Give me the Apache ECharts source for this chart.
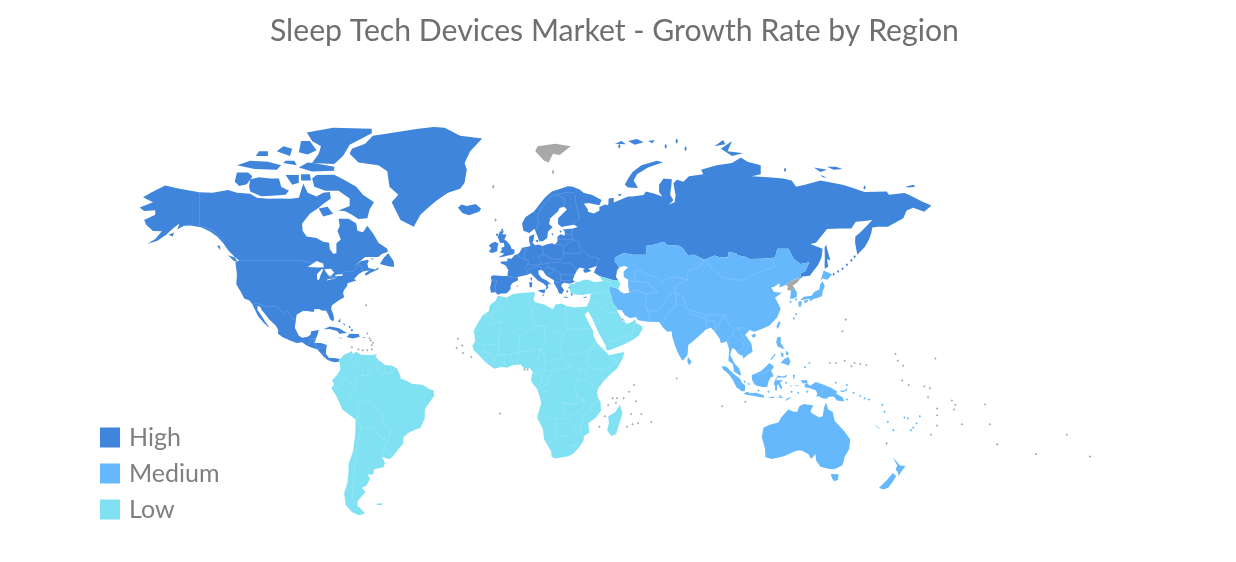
<!DOCTYPE html>
<html>
<head>
<meta charset="utf-8">
<title>Sleep Tech Devices Market</title>
<script src="https://cdn.jsdelivr.net/npm/echarts@6/dist/echarts.min.js"></script>
<style>
  html, body { margin: 0; padding: 0; background: #fff; }
  #chart-container { width: 1236px; height: 562px; }
</style>
</head>
<body>
<div id="chart-container"></div>
<script>
// legend levels, region assignment
var levelNames = ['High', 'Medium', 'Low'];
var levelValues = [3, 2, 1];
var levelColors = ['#3f85dc', '#66b8fc', '#7fe1f2'];
var noDataColor = '#a8a8a8';
var regionNames = ['North America', 'Europe', 'Asia Pacific', 'South America', 'Middle East and Africa', 'Rest of the World'];
var regionLevels = [3, 3, 2, 1, 1, null];

// outlines as [lon, lat], lon runs past 180 where the map does
var northAmerica = [[-168,65.6],[-164,66.5],[-162,67],[-166.5,68.3],[-163,69.5],[-156.5,71.3],[-150,70.5],[-141,69.6],[-135,69.5],[-128,70.2],[-124,69.5],[-118,69.2],[-115,68.2],[-110,67.9],[-105,68],[-100,67.9],[-96,68.2],[-94,71.8],[-92,69.5],[-88,68.5],[-85,69.5],[-82,69.7],[-81.5,68],[-85,66.5],[-87,65.5],[-91,63.8],[-94.5,61],[-94.3,58.8],[-92.5,57],[-88,56.5],[-85,55.3],[-82.3,55],[-82,52.9],[-80.5,51.3],[-79,51.5],[-79,53],[-79,54.8],[-77,56],[-78.5,58.7],[-77.5,60.2],[-78,62.4],[-73.5,62.4],[-70,61],[-69.5,58.8],[-67,58.3],[-65,60.3],[-62,57.5],[-60,55],[-56,53],[-55.7,52],[-58.5,51.2],[-60,50.2],[-66,50.2],[-69,48.3],[-71,46.9],[-68,48.7],[-65,49.2],[-64.3,48.8],[-65,47.8],[-64.5,46.3],[-61.5,45.8],[-60,46.5],[-60,45.9],[-63.5,44.6],[-65.7,43.5],[-66.2,44.2],[-64,45.5],[-67,45],[-69,44],[-71,42.3],[-70,41.7],[-74,40.6],[-74.2,39.5],[-75.5,38],[-76,37],[-75.5,35.2],[-77.8,34],[-79.5,33],[-81,32],[-81.4,30.5],[-80.5,28.3],[-80,26.5],[-80.5,25.2],[-81.8,26],[-82.7,28],[-83.7,29.8],[-85.3,29.7],[-87,30.4],[-89,30.3],[-89.3,29.2],[-91.5,29.5],[-94,29.7],[-97,28],[-97.3,26],[-97.8,22.5],[-96,19],[-94.5,18.2],[-92,18.6],[-90.7,19.5],[-90.4,21],[-87,21.5],[-87.5,19.5],[-88.2,18],[-88.8,15.9],[-86,15.9],[-83.3,15],[-83.7,12.5],[-83.7,11],[-82.3,9.2],[-80,9.2],[-77.4,8.7],[-78,7.5],[-80,7.3],[-81.5,7.7],[-83,8.3],[-85,10],[-86,11.2],[-87.6,13],[-90,13.8],[-92.3,14.6],[-94.5,16.2],[-97,15.9],[-100,17],[-103.5,18.5],[-105.5,20],[-105.3,21.5],[-106.5,23.5],[-109.4,26],[-111,28],[-112.8,30],[-113.5,31.3],[-114.7,31.7],[-114.7,30],[-113.2,28],[-111.5,25.5],[-109.5,23],[-110,22.9],[-112,24.8],[-114.5,27.5],[-115.8,30],[-117.1,32.5],[-118.5,34],[-120.6,34.6],[-122.5,37.7],[-124.3,40.3],[-124,44],[-124.7,48.3],[-123,49],[-125,50.2],[-128,52.5],[-130.2,54.8],[-133,57],[-136,58.5],[-140,59.8],[-145,60.4],[-148,60.3],[-151,59.2],[-150,61],[-153,59.5],[-156,57.5],[-160,55.6],[-164.5,54.6],[-161,56.2],[-158,58.6],[-162,58.7],[-165,60.5],[-166,62],[-161,63.5],[-161,64.8],[-166,64.6]];
var greatLakes = [
  [[-92,46.7],[-88,48.8],[-85,47.9],[-84.7,46.6],[-87,46.5]],
  [[-87.7,42],[-87.8,44],[-85.5,46],[-85,45.7],[-86.3,43.5],[-86.8,42]],
  [[-84.5,45.9],[-81.5,46],[-80,44.7],[-81.7,43.2],[-83,44]],
  [[-83.3,41.7],[-83,42.2],[-79,42.9],[-79,42.6]],
  [[-79.7,43.3],[-79.3,43.8],[-76.3,44.1],[-76.2,43.5]]
];
var arcticIslands = [
  [[-88,73.8],[-80,73.9],[-76,72.8],[-70,71],[-67,69],[-62,67],[-64,65],[-65,62.5],[-69,62.3],[-72,63.5],[-75,64.5],[-78,64.7],[-73,66],[-73,68],[-78,70],[-84,70],[-89,71],[-90,73]],
  [[-118,69.8],[-113,68.6],[-108,68.7],[-102,69],[-100.5,70],[-104,71],[-105,73],[-109,73],[-114,73.3],[-118,72.8],[-118.5,71]],
  [[-125,72.2],[-123,71.2],[-119.5,71.6],[-117,73.5],[-119,74.4],[-124,74.4]],
  [[-124,76],[-116,75.2],[-106,75],[-104,76],[-110,76.8],[-118,77]],
  [[-96,75.5],[-90,74.6],[-80,74.8],[-80,75.7],[-88,76.4],[-92,76.6]],
  [[-90,76.5],[-80,76.3],[-76,78],[-73,80.3],[-63,82.5],[-63,83.3],[-80.5,83.5],[-92.4,82.6],[-90,81],[-86,80],[-87,78.5]],
  [[-96,78.8],[-92,78.3],[-88,79.2],[-91,81],[-95,81]],
  [[-106,79],[-100,78],[-99,79.5],[-103,80]],
  [[-115.5,78],[-110,78],[-110,79],[-114,79]],
  [[-102,73.8],[-99,71.5],[-96,72],[-96,73.8]],
  [[-95,74],[-91,74],[-90.5,72.5],[-95,72.5]],
  [[-87,65.3],[-83,65.8],[-80.5,63.8],[-85,63]],
  [[-59.3,47.7],[-55.5,46.9],[-53,46.7],[-53,48.5],[-55.5,51.5],[-57.5,50]],
  [[-128,50.8],[-125,50],[-123.5,48.4],[-125.5,48.9]],
  [[-133,54],[-131.7,54],[-131.5,52.5]],
  [[-155,57.5],[-152.5,58.2],[-153,57]],
  [[-64,49.9],[-62,49.5],[-62.5,49.2]],
  [[-103,76.5],[-97,76],[-98,77],[-102,77]]
];
var greenland = [[-73,78.5],[-69,76.6],[-60,76],[-56,74.7],[-55,71],[-51,69],[-54,67],[-50,62],[-46,60.7],[-44,60],[-41,63.5],[-37,65.8],[-33.5,67.5],[-28.5,69.5],[-23,70.5],[-21,72],[-20,75],[-21,76.5],[-18.5,79],[-13,81.5],[-23,82],[-30,83.5],[-35,83.6],[-42,83.3],[-55,82.5],[-62.5,82],[-66,80.5],[-72,79.5]];
var caribbean = [
  [[-84.9,21.9],[-82,23.1],[-78,22.4],[-74.2,20.2],[-77.7,19.9],[-78.5,21],[-82,22]],
  [[-74.4,18.5],[-73,19.9],[-69,19.8],[-68.4,18.6],[-71.5,17.8]],
  [[-78.3,18.3],[-76.3,18.1],[-77,17.8]],
  [[-67.2,18.4],[-65.7,18.3],[-66.5,18]],
  [[-78.3,25],[-77.3,26.6],[-77.2,25]],
  [[-76,24.8],[-75,23.8],[-75.5,23.5]],
  [[-61.8,10.7],[-60.9,10.8],[-61,10.1]]
];
var eurasiaWest = [[-9,37],[-9.5,38.8],[-8.8,41.5],[-9.2,43.1],[-8,43.7],[-4,43.4],[-1.7,43.4],[-1.2,45.5],[-2.5,47.3],[-4.7,48],[-4.5,48.6],[-1.7,48.7],[-1.6,49.7],[0.2,49.6],[1.6,50.8],[3.5,51.4],[4.5,52.5],[5,53.3],[7,53.6],[8.8,53.9],[8.2,55.5],[8.2,57],[10.6,57.7],[10.3,56.2],[9.8,55],[11,54.2],[12.5,54.4],[14.2,53.9],[16.5,54.5],[18.6,54.8],[19.8,54.4],[21,55.3],[21,57],[22.5,57.7],[24.3,57.2],[24.4,58.4],[23.5,59.2],[28,59.5],[30.2,59.9],[28.5,60.6],[25,60.2],[22.9,59.9],[21.3,60.8],[21.3,62.5],[25.3,65],[24,65.8],[22,65.4],[21.3,64.5],[17.8,62.5],[17.2,60.8],[18.8,59.9],[16.7,58.5],[16.4,56.5],[14.3,55.5],[12.9,55.4],[11.2,58.5],[10.6,59.4],[8.3,58.1],[5.6,58.8],[5,61],[6.5,62.8],[10.5,64.5],[13,66.5],[15.5,68.3],[18.5,69.8],[23,70.6],[25.7,71.1],[28,71],[31,70.3],[33,69.4],[36.5,69],[41,67.6],[40,66.2],[35,66.8],[33,66.6],[34.8,65],[34.8,64.4],[37.5,63.9],[40,64.7],[40,65.7],[42.5,66.4],[44,66.2],[44.2,68],[46.5,68.2],[46.5,66.9],[53,68.5],[55,68.5],[60,68.9],[61,69.8],[65,69.2],[68.5,68.5],[67,69.7],[67,71.5],[69,73],[72.8,72.8],[72.5,71],[72,69],[73.5,67.5],[71.5,66.4],[74,67],[74.5,68.8],[73.5,71.8],[75,72.7],[78,72.2],[80.5,73.5],[87,74],[86,75],[93,76],[100,76.5],[104,77.7],[107,76.8],[113,76],[113,74],[109,73.5],[118,73.2],[123,73],[127,72.5],[129,71],[133,71.5],[140,72.5],[150,71.5],[153,71],[160,69.7],[170,69.8],[171,69],[178,69.4],[180,69],[186,67.2],[190.2,66.1],[187,64.4],[182,65.5],[179,64.7],[177.5,62.5],[170.5,60],[166,60],[163.5,59.8],[163,58],[162,56],[160,53.5],[158,52],[156.7,51],[155.7,55],[155.8,57],[158,58.2],[161,60.3],[163.5,62],[160,61.7],[156,61.5],[154,59.5],[149,59.5],[143,59.3],[138,55],[135.5,54.6],[138,53.8],[141,53],[140.5,50],[139,47.5],[135.2,43.5],[132,43.2],[130.7,42.3],[130.9,43],[131.3,44.5],[133,45],[135,48.4],[131,47.7],[128,49.5],[125.5,53],[120.5,53],[119.5,50],[116.5,49.8],[113,49.6],[108,49.5],[106,50.3],[102.3,50.8],[102,51.4],[98.5,52],[98,50],[94,50.2],[92,50.7],[87.5,49.2],[85.5,50],[83,51],[80,50.9],[77.5,53.3],[76,54],[71,54.2],[69,55.3],[65,54.4],[61,53.9],[61.5,51],[55,51],[51,51.6],[47,50],[47,48.5],[49,46.5],[48,45.5],[47.5,43],[48.5,41.9],[46,41.9],[40,43.4],[37.5,44.7],[38.5,46.5],[39,47],[35,46],[36.4,45.2],[33.5,44.5],[32.5,45.5],[33.5,46],[31,46.5],[29.7,45.2],[28.6,43.5],[28,41.9],[29,41.2],[26.5,40.5],[24,40.8],[23,40.3],[22.8,39.5],[24,38],[23,36.5],[21.7,36.8],[21,38.4],[19.5,40.5],[19.4,41.8],[16,43.5],[14.5,45.2],[13.7,45.6],[12.4,45.4],[12.5,44],[14,42.5],[16,41.8],[18.5,40.1],[17,40.5],[16.6,39.5],[17,39],[15.7,38],[16,39.5],[14.5,40.6],[12.3,41.6],[10.5,43],[8.9,44.4],[7.5,43.8],[5,43.4],[3,43],[3.2,41.8],[0.5,40.6],[-0.3,39.4],[0,38.7],[-1,37.6],[-2.2,36.7],[-4.5,36.7],[-6,36.2],[-7,37.2]];
var europeIslands = [
  [[-5.7,50],[-3.5,50.3],[1.4,51.2],[1.7,52.7],[0.2,53],[-0.2,54],[-1.6,55.3],[-3,56],[-2,57.6],[-4,57.7],[-3.1,58.6],[-5,58.6],[-6,56.8],[-5,55],[-3.2,54.9],[-3,53.7],[-4.4,53.3],[-4.2,52.3],[-5.2,51.8],[-3,51.3]],
  [[-10,52],[-8.5,51.6],[-6.3,52.2],[-6,53.8],[-5.6,54.6],[-7,55.3],[-8.4,55],[-10,54.2],[-9,53.2]],
  [[-24,65.5],[-22,64],[-19,63.4],[-14.5,64.4],[-13.5,65.2],[-16,66.5],[-20,66],[-22.5,66.4]],
  [[12.5,38],[15.6,38.2],[15.1,36.7],[12.5,37.6]],
  [[8.2,41],[9.6,41],[9.5,39.2],[8.5,39]],
  [[8.7,42.5],[9.4,43],[9.5,42],[9.2,41.4]],
  [[23.6,35.5],[26.3,35.2],[24.8,34.9]],
  [[32.3,35],[34.5,35.6],[33.7,34.9]],
  [[2.4,39.6],[3.4,39.9],[3,39.3]],
  [[11,55.7],[12.5,56],[12,55]],
  [[18.2,57.9],[19.2,57.9],[18.8,57.2]],
  [[22,58.9],[23,58.6],[22.2,58.1]],
  [[51.5,71.5],[53,70.8],[57.5,70.7],[55.5,72.5],[57,74],[62,75.5],[68.8,76.7],[66,77],[59,76],[55,74.5],[53,73]],
  [[48,69],[50,69.2],[49.5,68.6]],
  [[47,80.5],[50,81],[52,80.4]],
  [[53,81],[57,81.4],[60,80.8],[56,80.3]],
  [[62,81],[65,81.2],[64,80.6]],
  [[95,79.5],[100,81],[98,79],[105,78.6],[100,78]],
  [[92,80],[96,81.2],[97,80.4]],
  [[137,75.5],[140,74.5],[143,75]],
  [[143,75.7],[146,75],[150,75.2],[147,75.7]],
  [[140,73.8],[143,73.2],[141,73.3]],
  [[178.5,71],[182,71.5],[183,71],[180,70.8]],
  [[142,46],[143.5,46.8],[143,49.5],[144.5,49],[143,53],[142.7,54.3],[141.9,53.5],[142,50],[141.9,47.5]]
];
var asiaMain = [[49,46.5],[47,48.5],[47,50],[51,51.6],[55,51],[61.5,51],[61,53.9],[65,54.4],[69,55.3],[71,54.2],[76,54],[77.5,53.3],[80,50.9],[83,51],[85.5,50],[87.5,49.2],[92,50.7],[94,50.2],[98,50],[98.5,52],[102,51.4],[102.3,50.8],[106,50.3],[108,49.5],[113,49.6],[116.5,49.8],[119.5,50],[120.5,53],[125.5,53],[128,49.5],[131,47.7],[135,48.4],[133,45],[131.3,44.5],[130.9,43],[130.7,42.3],[129.5,42.5],[128,42],[126.5,41.5],[124.4,40],[121.5,39],[121.5,40.7],[119,39.2],[117.7,39],[119,37.3],[122.5,37],[119.5,35],[121,32.5],[122,30.5],[120.5,27],[117,23.5],[113.5,22],[110,20.8],[108,21.5],[106,19.5],[108.8,15.5],[109.3,12],[107,10.5],[105,8.7],[105,10],[103,11],[100.8,13.5],[100,13.4],[99.2,10.5],[101,7],[103.3,4.5],[104.2,1.4],[103.4,1.4],[101,3],[100.3,6.5],[98.4,8],[98.7,13],[97.6,16.5],[95,15.8],[94.3,18],[92,21],[90.5,22.5],[88,21.7],[86.8,20.5],[82.5,16.8],[80.2,15],[80,12],[79.8,10.3],[77.6,8],[76,10.5],[74.5,14],[73,18.5],[72.7,21],[70.8,20.8],[69,22.3],[68,23.7],[67,25],[62,25.1],[57.5,25.7],[56.5,27.1],[54,26.6],[51.5,27.8],[50,30],[48.6,30],[47.7,31],[46,33],[45.5,35.5],[44.5,37.5],[44.5,39.5],[46.5,39],[48.5,38.5],[49.5,37.5],[51,36.7],[53.5,37],[53,40],[53,42],[51,43],[51,45],[53,46.7],[51,47]];
var asiaIslands = [
  [[128.4,38.6],[129.4,37],[129.3,35.3],[127.5,34.6],[126.3,34.6],[126.7,37.8]],
  [[80,9.7],[81.8,7.5],[80.6,5.9],[79.8,7.5]],
  [[108.7,19.3],[110.5,20],[110.8,18.8],[109.5,18.2]],
  [[121,25.2],[122,25],[120.8,22],[120.1,23]],
  [[130.9,34],[132.5,35.4],[136,35.8],[137.2,37.3],[139.5,38.2],[140,40.5],[141,41.4],[142,39.5],[141,37.5],[140.8,35.7],[139,35],[136.8,34.5],[135.5,33.5],[135,34.6],[132.5,34.2]],
  [[130,33.5],[131.6,33.6],[131.3,31.4],[130.2,31.3]],
  [[132.4,33.8],[134.5,34.2],[134.3,33.4],[133,32.8]],
  [[140,41.5],[141.5,45.4],[145.3,44],[143.2,42],[141,42.4]],
  [[120.5,18.5],[122.2,18.4],[122,16],[124,13],[122,13.8],[120.6,14.3],[120,16.2]],
  [[122,7],[123.5,8.6],[125.5,9.7],[126.5,7.5],[125.5,5.7],[124,6.5]],
  [[124.5,12.5],[125.7,11.2],[125,10.2],[124.3,11]],
  [[122,11.8],[123.3,11.2],[123.3,9.5],[122.4,9.9]],
  [[117.2,8.4],[119.5,11.3],[119.7,10.6],[118,8.5]],
  [[95.3,5.6],[97.5,5.2],[100.5,2.2],[103.5,0],[104.5,-2],[106,-3.2],[105.8,-5.8],[104.5,-5.8],[102,-4],[100.5,-1],[98.7,1.7],[96,4]],
  [[105.2,-6.8],[106.8,-6],[108.5,-6.7],[111,-6.5],[114.5,-7.7],[114.4,-8.7],[110,-8],[106.5,-7.4]],
  [[109,1.5],[111.3,2.5],[113,3.2],[115.5,5.5],[117,7],[119,5.2],[117.7,3.5],[118.9,1],[117.5,0.5],[116.5,-1.5],[116,-3.8],[114.5,-4],[111.8,-3.5],[110.2,-2.8],[109,-0.5]],
  [[119.4,-5.4],[119.6,-3.4],[118.9,-2.7],[119.8,0],[120.7,1.3],[123,0.9],[125,1.6],[124.3,0.4],[120.3,0.4],[120.1,-0.8],[121.5,-0.9],[123.3,-0.8],[121.7,-1.9],[122.8,-4.3],[122,-4.8],[121,-2.8],[120.4,-3],[120.4,-5.5]],
  [[131,-0.8],[134,-0.8],[134.2,-2.5],[135.5,-3.3],[137.8,-1.6],[141,-2.6],[145,-4.3],[147.8,-6],[147,-6.8],[150,-8.5],[150.8,-10.4],[147.5,-10],[146,-8.2],[143.5,-8.4],[143,-9.2],[141,-9.1],[139,-8],[138,-8.4],[138.6,-7],[138,-5.5],[135,-4.3],[133,-4],[132.8,-2.8],[134,-2.3],[132,-2.2]],
  [[148.5,-5.6],[151,-5.5],[152.2,-4.2],[152,-5.5],[150,-6.3]],
  [[124,-10.2],[125,-9],[127.2,-8.4],[125,-9.8]],
  [[120,-8.8],[123,-8.2],[122.8,-8.7],[120,-8.9]],
  [[116,-8.8],[119,-8.2],[119,-8.8]],
  [[119.2,-9.7],[120.7,-9.8],[120.5,-10.2]],
  [[127.5,1.8],[128.5,1.5],[128,-0.7],[127.7,0.5]],
  [[128,-3],[130.8,-3.2],[129.5,-3.5]],
  [[126,-3.2],[127.2,-3.4],[126.5,-3.8]],
  [[114.2,-22],[113.5,-26],[115,-31],[115.1,-34.3],[118,-35],[123.5,-33.9],[129,-31.6],[131.5,-31.5],[134.5,-33],[135.8,-35],[137.8,-33],[138,-35.5],[140,-38],[143.5,-38.8],[146.3,-39],[150,-37.5],[151,-34],[153,-31],[153.5,-27],[150.8,-23.5],[146.5,-19],[145.5,-15],[143.5,-14],[142.5,-10.8],[141.7,-13],[141,-17],[139.5,-17.5],[136,-15.5],[135.5,-14.7],[136.8,-12.2],[132.5,-11.5],[130.5,-12.5],[129.5,-15],[128,-15],[125.5,-14],[122.2,-17.5],[121,-19.7],[117,-20.7]],
  [[144.7,-40.8],[148.2,-40.9],[148,-43],[146.3,-43.6],[145.3,-42.5]],
  [[172.7,-34.5],[174.5,-36],[176,-37.6],[178.5,-37.7],[177,-39.5],[175.3,-41.6],[175,-40],[174,-39.3],[174.8,-37.5]],
  [[172.8,-40.5],[174.3,-41.7],[172.8,-43.7],[170.7,-45.9],[168.5,-46.6],[166.5,-45.9],[170,-43.2]],
  [[164,-20.2],[167,-22.3],[166.4,-22.3]]
];
var southAmerica = [[-77.4,8.7],[-75.5,10.7],[-72,12.2],[-71.5,11],[-70,12],[-68,10.6],[-64,10.5],[-62,10.7],[-60,8.4],[-57,6],[-54,5.8],[-51.5,4.5],[-50,1],[-50,0],[-48,-0.7],[-44.5,-2.5],[-40,-2.9],[-37,-4.8],[-35,-5.5],[-34.8,-8],[-37,-11],[-39,-14],[-39,-18],[-41,-22],[-44,-23],[-46.5,-24.2],[-48.6,-26],[-48.7,-28.5],[-51,-31],[-53.5,-34],[-55,-35],[-58.4,-34.2],[-57,-36.5],[-57.7,-38.2],[-62,-39],[-62.3,-41],[-65,-41],[-63.7,-42.5],[-65.3,-45],[-67.5,-46],[-65.8,-47.5],[-69.3,-50.5],[-69.5,-52.3],[-68.5,-52.8],[-66,-54.8],[-69,-55.4],[-72,-54.3],[-74.8,-52],[-75.5,-48],[-74,-44],[-73.5,-40],[-73.5,-37],[-71.5,-32],[-70.5,-25],[-70.3,-18.4],[-76.3,-14],[-79,-8],[-81.3,-4.5],[-80,-2.5],[-81,-1],[-78.8,1.5],[-77.2,4],[-77.5,7],[-78,8.3]];
var falklands = [[-61,-51.6],[-58,-51.4],[-58.5,-52],[-60.5,-52]];
var africa = [[-5.9,35.8],[-2,35.1],[1,36.5],[5,36.9],[10,37.3],[11,36.9],[10.2,34.3],[11,33.2],[15,32.3],[19,30.3],[20.1,32.3],[23,32.7],[25,31.6],[29,31],[32.2,31.3],[34.3,31.3],[34.9,29.5],[33.5,28],[32.6,29.9],[33.5,27.8],[35.5,24],[37.2,21],[37.3,19],[39,15.8],[43,12],[43.3,11.5],[44.5,10.4],[48,11.2],[51.2,11.9],[50.8,9.5],[48,4.5],[44,1],[41.5,-1.8],[39.5,-4.5],[39,-6.5],[39.5,-9],[40.5,-10.5],[40.7,-14.5],[38.5,-17.5],[35,-20],[35.5,-24],[33,-25.5],[32.8,-27.5],[31,-30],[28,-33],[25.5,-34],[20,-34.8],[18.3,-34],[18.2,-32],[15,-27],[14.4,-22.5],[11.8,-17.5],[13.7,-11],[13,-8.5],[12,-5],[9.5,-2],[9,-0.5],[9.8,3],[8.5,4.6],[6,4.3],[4.5,6.3],[1,6],[-2,4.8],[-4,5.2],[-7.5,4.4],[-11,6.8],[-13.2,9],[-15,11],[-16.8,12.5],[-17.5,14.7],[-16.3,16.5],[-16.5,19.4],[-17,21],[-14.9,24.5],[-13,27.7],[-10,29.5],[-9.6,32],[-7,33.8]];
var madagascar = [[49.3,-12],[50.5,-15.5],[47.5,-24.8],[45.3,-25.5],[43.5,-23],[44.3,-20],[44,-17],[47,-15.3]];
var middleEast = [[26.3,39.5],[27,37],[29,36.3],[32.5,36.1],[36,36.7],[35.8,34.5],[34.3,31.3],[34.9,29.5],[37,26],[39,21.5],[41,18],[42.7,15],[43.3,12.7],[45,12.8],[48,14],[52,15.7],[55,17.2],[57.8,19],[59.8,22.5],[58.5,23.7],[56.5,24.6],[56.3,26.2],[55,25.2],[52.5,24.2],[51.5,24.8],[51.3,26],[50.5,25],[49.8,27],[48.2,29.3],[48,30],[48.6,30],[47.7,31],[46,33],[45.5,35.5],[44.5,37.5],[44.5,39.5],[46.5,39],[48.5,38.5],[49.5,40.3],[48.5,41.9],[46,41.9],[40,43.4],[41.6,41.5],[38,41],[35,42],[33,42],[31,41.2],[29,41.1],[29,40.5],[26.7,40.4]];
var greyLands = [
  [[11,79],[15,77],[17,76.6],[19,78.5],[22,78.2],[27,80],[20,80.5],[12,80]],
  [[130.7,42.3],[129.7,41],[127.5,39.8],[128.4,38.6],[126.7,37.8],[125,38],[125.3,39.5],[124.4,40],[126.5,41.5],[128,42],[129.5,42.5]]
];

// small islands as centres [lon, lat]
var highIslets = [[146,44],[148,45],[150,46],[152,47.5],[154,49],[155.5,50.3],[-4,59],[-6.3,57.5],[25.5,37.5],[26.5,39],[27.5,36.3],[49,80],[70,80],[75,81],[79,79.5],[124,75],[160,70.8],[-72,21.5],[-73,22.8]];
var mediumIslets = [[135,7],[133,5],[158,-8],[160,-9],[162,-9.5],[155,-6.5],[168,-12],[169,-15],[170.5,-19.5],[173,-23],[179.6,-18],[178,-17.5],[185,-17],[183.5,-20],[182,-22],[181,-23],[124.5,-2],[127,-6],[130,-6.5],[134,-6],[152,-9.5],[147,-2],[152,-3],[126.5,33.4],[129,34.3],[129,28.3],[128,26.5],[121.8,-8],[116.5,-6],[112,-5.5],[107.5,-2.5],[105.8,-1.5]];
var greyIslets = [[-24,17.7],[-22,14.8],[-24.6,13.7],[-21.7,11.4],[-18,9.6],[-5,-15.8],[6,4],[7.5,4],[44,-12],[47.5,-11],[42.5,-17],[40,-21.5],[46,-9],[48,-9],[51,-9],[55.7,-3],[53.4,-6],[56.6,-10.3],[54.4,-16],[59,-16],[52.5,-21.5],[55,-20.5],[57.5,-20],[63.5,-19.5],[75,0],[95.5,-12.5],[106,-10.5],[151.5,26],[150,21],[144.3,7],[147,7],[151,8],[154,5.5],[155.5,7],[158,6.5],[160.8,6],[174,11],[175,8],[177.4,5.7],[192,9],[177,-1],[180,-3],[187,-3.6],[189.6,-4.5],[188.7,-8.5],[199.5,-10],[201,-12],[200.5,-14],[214.5,-11.7],[192.8,-13.5],[192.8,-16.5],[192.8,-21],[190,-25],[204,-20.5],[216.7,-20.5],[220,-29],[237.6,-33],[251.5,-25],[262,-34],[170,-28.6],[-65,20],[-64,18],[-63.5,17],[-62.5,16],[-63,15],[-72,14],[-69,13],[-67,12.7],[-65,12.7],[-63,13],[-65.6,32],[-7,62],[19,74.5],[-8,71],[50.5,26],[14.5,36]];

// thin country borders
var borders = [
  [[-141,69.6],[-141,60.3],[-135,59],[-130,55.5]],
  [[-123,49],[-95,49],[-89.5,48],[-84.5,46.5],[-82.4,43],[-79,43],[-76,44.5],[-74.7,45],[-71,45.2],[-69,47.4],[-67.5,47],[-67,45]],
  [[-117.1,32.5],[-114.7,32.7],[-111,31.3],[-106.5,31.7],[-103,29],[-101,29.7],[-99,26.4],[-97.3,26]],
  [[-92.3,14.6],[-91,16],[-91,17.8],[-89,17.9],[-88.2,18]],[[-89,17.9],[-89.2,15.9],[-88.8,15.9]],[[-89.2,15.9],[-87.6,13]],[[-87.6,13],[-85,14],[-83.3,15]],[[-86,11.2],[-83.7,11]],[[-83,8.3],[-82.3,9.2]],
  [[-1.7,43.4],[3,42.5]],[[-8.8,41.9],[-6.5,41.7],[-7,39.5],[-7.4,37.2]],
  [[2.5,51],[4.5,50],[6,49.5],[8,49],[7.5,47.6],[6,46.3],[7,45.5],[7.5,43.8]],[[7,53.3],[6,51],[6,49.5]],[[8.6,54.9],[9.8,54.8]],
  [[14.2,53.9],[14.7,51],[12.2,50.3],[13.7,48.7],[13,47.5],[10,47.4],[7.5,47.6]],
  [[13,47.5],[16.5,48],[17,48.2],[22,48.4],[24,47.9],[27,48.3],[29,46.5],[29.7,45.2]],
  [[14.7,51],[19,49.5],[22.5,49.2],[24,50.8],[23.5,53.8],[22.8,54.4],[19.8,54.4]],
  [[7,45.5],[10,46.5],[12.3,47],[13.7,46.5],[13.7,45.6]],
  [[16.5,48],[16.5,46.5],[19,46],[22,44.5],[22.5,44],[28.6,43.7]],[[22.5,44],[22.5,41.5],[26.3,41.7],[28,42]],[[19.4,41.8],[20.5,41],[20,39.7]],[[20.5,41],[22.5,41.2]],[[14.5,45.3],[16.5,46.5]],[[16,43.5],[19,44.8],[19,46]],
  [[21,56.2],[26,56],[28,56]],[[24.4,57.9],[27.5,57.5]],[[23.5,53.8],[26,54.8],[28,56],[27.5,57.5],[28,59.5]],
  [[24,51.5],[31,51.5],[33,52.3],[36,50.4],[40,49.6],[38.5,47]],[[28,56],[31,54.8],[31,52.5]],
  [[28,60.6],[31,62.5],[29.5,66],[29,69]],[[24,65.8],[24,68],[20.5,69],[25,69.5],[29,69.5]],[[11.2,58.9],[12.5,61],[12,63.5],[14.5,66],[18,68.5],[20.5,69]],
  [[53,42],[56,41.3],[56,45],[59,45.5],[61,44],[66,43],[68,41],[71,42.5],[74,43],[80,42]],
  [[53.5,37],[57,38.2],[61,36.5],[64,37],[66.5,37.4],[61,41],[56,41.3]],
  [[61,36.5],[61,31.5],[62,29.5],[66.5,29.8],[70,33.5],[71.5,36.5],[74.5,37]],[[61,31.5],[62.8,27],[61.6,25.1]],
  [[87.5,49.2],[85.5,47],[80,45],[80,42]],[[80,42],[74,39.5],[74.5,37]],[[74.5,37],[75,32],[70,28],[69,24.3]],
  [[74.5,37],[78,35],[79,31],[81,30],[88,27.9],[92,28],[97,28]],[[81,30],[80,28.8],[88,26.5],[88,27.9]],[[88,26],[88.8,22]],[[88,26],[92.4,25],[92,21]],
  [[97,28],[94.5,25],[93,22],[92.5,21]],[[97,28],[98.5,24],[101,21.5]],[[101,21.5],[103,22.5],[106,22.5],[108,21.5]],[[103,22.5],[104.5,19],[107.5,15],[106,11.3],[105,10.5]],
  [[101,21.5],[100.5,20],[102,18],[105,16],[105.5,14.3],[102.5,12]],[[100.5,20],[98,18],[99,11]],[[100.3,6.5],[102,6]],
  [[87.5,49.2],[91,46],[96,42.7],[105,41.7],[112,44.8],[120,47],[116,49.8]],[[109.6,2],[114,2],[117.5,4.2]],[[141,-2.6],[141,-9.1]],
  [[36,36.7],[42,37.2],[44.5,37.5]],[[41.6,41.5],[44.5,41.2],[46,41.9]],[[42,37.2],[41,34.5],[39,32.5],[36.8,32.5],[35,33]],[[39,32.5],[44,29],[48,29]],[[43.3,16.5],[47,17],[52,19],[55,20],[56,24.5]],[[52,19],[53,16]],[[44.5,41.2],[46.5,39]],
  [[-2,35.1],[-2,32],[-8.7,28.7],[-8.7,27.3],[-13,27.7]],[[-8.7,27.3],[-4.8,25],[-12,23],[-13,21.3],[-17,21]],[[-4.8,25],[-5.5,15.5],[-12,14.8],[-16.3,16.5]],
  [[-4.8,25],[1,21],[4,19],[12,23.5],[13.5,23]],[[8.5,36.9],[8,33],[9.5,30],[10,24.5],[12,23.5]],[[9.5,30],[11.5,33.2]],[[25,31.6],[25,20]],[[25,22],[36.9,22]],[[25,20],[24,19.5],[15,23],[12,23.5]],
  [[24,19.5],[22,13],[23.5,9]],[[4,19],[3.5,11.8],[14,13]],[[15,23],[15.5,16],[13.5,13.7]],[[13.5,13.7],[15,10],[15.5,7.5],[18.5,8],[23.5,9]],[[13.5,13.7],[12,7],[8.7,4.6]],
  [[3.5,11.8],[2.7,6.4]],[[0,11],[1,6]],[[-3,11],[-2.7,5]],[[-8,10],[-7.5,4.4]],[[-5.5,10.5],[0,11],[3.5,11.8]],[[-12,14.8],[-11.3,12],[-8,10],[-5.5,10.5]],[[-5.5,15.5],[-5.5,10.5]],[[-11.3,12],[-13.5,12.4],[-16.8,12.5]],[[-13.2,9],[-11,10],[-10.5,8],[-11,6.8]],
  [[15.5,7.5],[15,3.5],[18.5,3.5],[27,5]],[[23.5,9],[27,5],[31,3.7],[34,4.2],[35,5]],[[36,12.5],[34,9],[35,5],[41,4],[45,5],[48,8],[43,11]],[[38.6,18],[36.5,14.5],[36,12.5],[32,12],[25,10]],[[36.5,14.5],[40,14.5],[43,12]],[[41,4],[41.5,-1.8]],[[34,-1],[39.2,-4.6]],[[31,3.7],[30,-1],[34,-1],[34,4.2]],
  [[30,-1],[29,-4.5],[30,-8],[28.5,-12],[24,-11]],[[18.5,3.5],[16,-3],[12,-5]],[[9.8,2.3],[13,2.2],[14,-2],[11,-3.8]],[[13,-6],[17,-6],[22,-11],[24,-11],[24,-18],[12,-17.3]],
  [[20,-17.9],[20,-28.5],[16.5,-28.6]],[[20,-22],[25,-18],[29,-22],[25.5,-25.7],[20,-25]],[[25,-18],[29,-15.7],[33,-17],[31.5,-22.3],[29,-22]],[[31.5,-22.3],[32,-26]],[[33,-17],[35,-16],[37,-11.5],[40.5,-10.5]],[[24,-11],[28.5,-12],[33,-9.5],[33,-13],[30,-15.5]],[[30,-8],[33,-9.5],[34.8,-11.5]],[[27.5,-30],[29.3,-29.3],[28.5,-28.7],[27,-29.8],[27.5,-30]],
  [[-71.5,11.5],[-72.5,8],[-67.5,6],[-67,1.2]],[[-78.8,1.5],[-75,0],[-70,-4.2],[-70,1],[-67,1.2]],[[-80.2,-3.4],[-78,-4.5],[-75,0]],[[-70,-4.2],[-73.5,-7.5],[-70.5,-11],[-69.5,-11]],[[-69.5,-11],[-65.5,-10],[-60,-14],[-58,-16.5],[-58,-20]],[[-69.5,-11],[-69,-16],[-69.5,-17.5],[-68,-22.5]],[[-68,-22.5],[-62.5,-22],[-58,-20]],[[-69.5,-17.5],[-70.3,-18.4]],[[-68,-22.5],[-69.5,-30],[-71,-40],[-72,-50],[-68.4,-52.3]],[[-62.5,-22],[-58,-27],[-54.6,-25.6],[-55,-22],[-58,-20]],[[-54.6,-25.6],[-57.5,-30]],[[-57.5,-30],[-53.5,-34]],[[-57.5,-30],[-58.4,-34.2]],[[-60,8.4],[-61,5],[-60,1.5],[-57,2],[-57,6]],[[-54,5.8],[-54.5,2.3],[-57,2]],[[-51.5,4.5],[-54.5,2.3]],[[-67,1.2],[-64,1.5],[-64,4],[-61,5]]
];

var dom = document.getElementById('chart-container');
var myChart = echarts.init(dom, null, { renderer: 'canvas' });

function isletRing(c, r) {
  return [[c[0] - r, c[1]], [c[0], c[1] + r], [c[0] + r, c[1]], [c[0], c[1] - r]];
}
function closeRing(ring) {
  return ring.concat([ring[0]]);
}
function multi(rings) {
  return rings.map(function (r) { return [closeRing(r)]; });
}
function feature(name, polygons) {
  return { type: 'Feature', properties: { name: name }, geometry: { type: 'MultiPolygon', coordinates: polygons } };
}

var lakeRings = greatLakes.map(function (r) { return closeRing(r.slice().reverse()); });
var worldJson = {
  type: 'FeatureCollection',
  features: [
    feature(regionNames[0], [[closeRing(northAmerica)].concat(lakeRings)].concat(multi(arcticIslands), multi([greenland]), multi(caribbean))),
    feature(regionNames[1], multi([eurasiaWest]).concat(multi(europeIslands), multi(highIslets.map(function (c) { return isletRing(c, 0.55); })))),
    feature(regionNames[2], multi([asiaMain]).concat(multi(asiaIslands), multi(mediumIslets.map(function (c) { return isletRing(c, 0.55); })))),
    feature(regionNames[3], multi([southAmerica, falklands])),
    feature(regionNames[4], multi([africa, madagascar, middleEast])),
    feature(regionNames[5], multi(greyLands).concat(multi(greyIslets.map(function (c) { return isletRing(c, 0.55); }))))
  ]
};
echarts.registerMap('sleepWorld', worldJson);

// Miller cylindrical, y grows downwards on screen
var RAD = Math.PI / 180;
function millerY(lat) {
  return -1.25 * Math.log(Math.tan(Math.PI / 4 + 0.4 * lat * RAD)) / RAD;
}
function millerLat(y) {
  return 2.5 * (Math.atan(Math.exp(-0.8 * y * RAD)) - Math.PI / 4) / RAD;
}

var option = {
  backgroundColor: '#fff',
  animation: false,
  title: {
    text: 'Sleep Tech Devices Market - Growth Rate by Region',
    left: 270,
    top: 16,
    padding: 0,
    textStyle: { fontFamily: 'Lato', fontWeight: 'normal', fontSize: 30.2, color: '#6f6f6f' }
  },
  geo: {
    map: 'sleepWorld',
    silent: true,
    roam: false,
    projection: {
      project: function (p) { return [p[0], millerY(p[1])]; },
      unproject: function (p) { return [p[0], millerLat(p[1])]; }
    },
    boundingCoords: [[-170, 85], [200, -60]],
    left: 135.3,
    top: 119,
    width: 817.7,
    height: 411,
    itemStyle: { areaColor: 'transparent', borderWidth: 0 },
    regions: [{ name: regionNames[5], itemStyle: { areaColor: noDataColor } }]
  },
  visualMap: {
    type: 'piecewise',
    left: 85,
    top: 410,
    orient: 'vertical',
    selectedMode: false,
    hoverLink: false,
    itemSymbol: 'rect',
    itemWidth: 20,
    itemHeight: 20,
    itemGap: 11,
    textGap: 9,
    seriesIndex: 0,
    pieces: levelNames.map(function (n, i) {
      return { value: levelValues[i], label: n, color: levelColors[i] };
    }),
    textStyle: { fontFamily: 'Lato', fontSize: 25, color: '#7f7f7f' }
  },
  series: [{
    type: 'map',
    geoIndex: 0,
    silent: true,
    label: { show: false },
    data: regionNames.map(function (n, i) {
      return regionLevels[i] === null ? { name: n, value: null, itemStyle: { areaColor: noDataColor } } : { name: n, value: regionLevels[i] };
    })
  }, {
    type: 'lines',
    coordinateSystem: 'geo',
    geoIndex: 0,
    polyline: true,
    silent: true,
    lineStyle: { color: '#ffffff', opacity: 0.2, width: 0.7 },
    data: borders.map(function (b) { return { coords: b }; })
  }]
};

myChart.setOption(option);
window.addEventListener('resize', myChart.resize);
</script>
</body>
</html>
